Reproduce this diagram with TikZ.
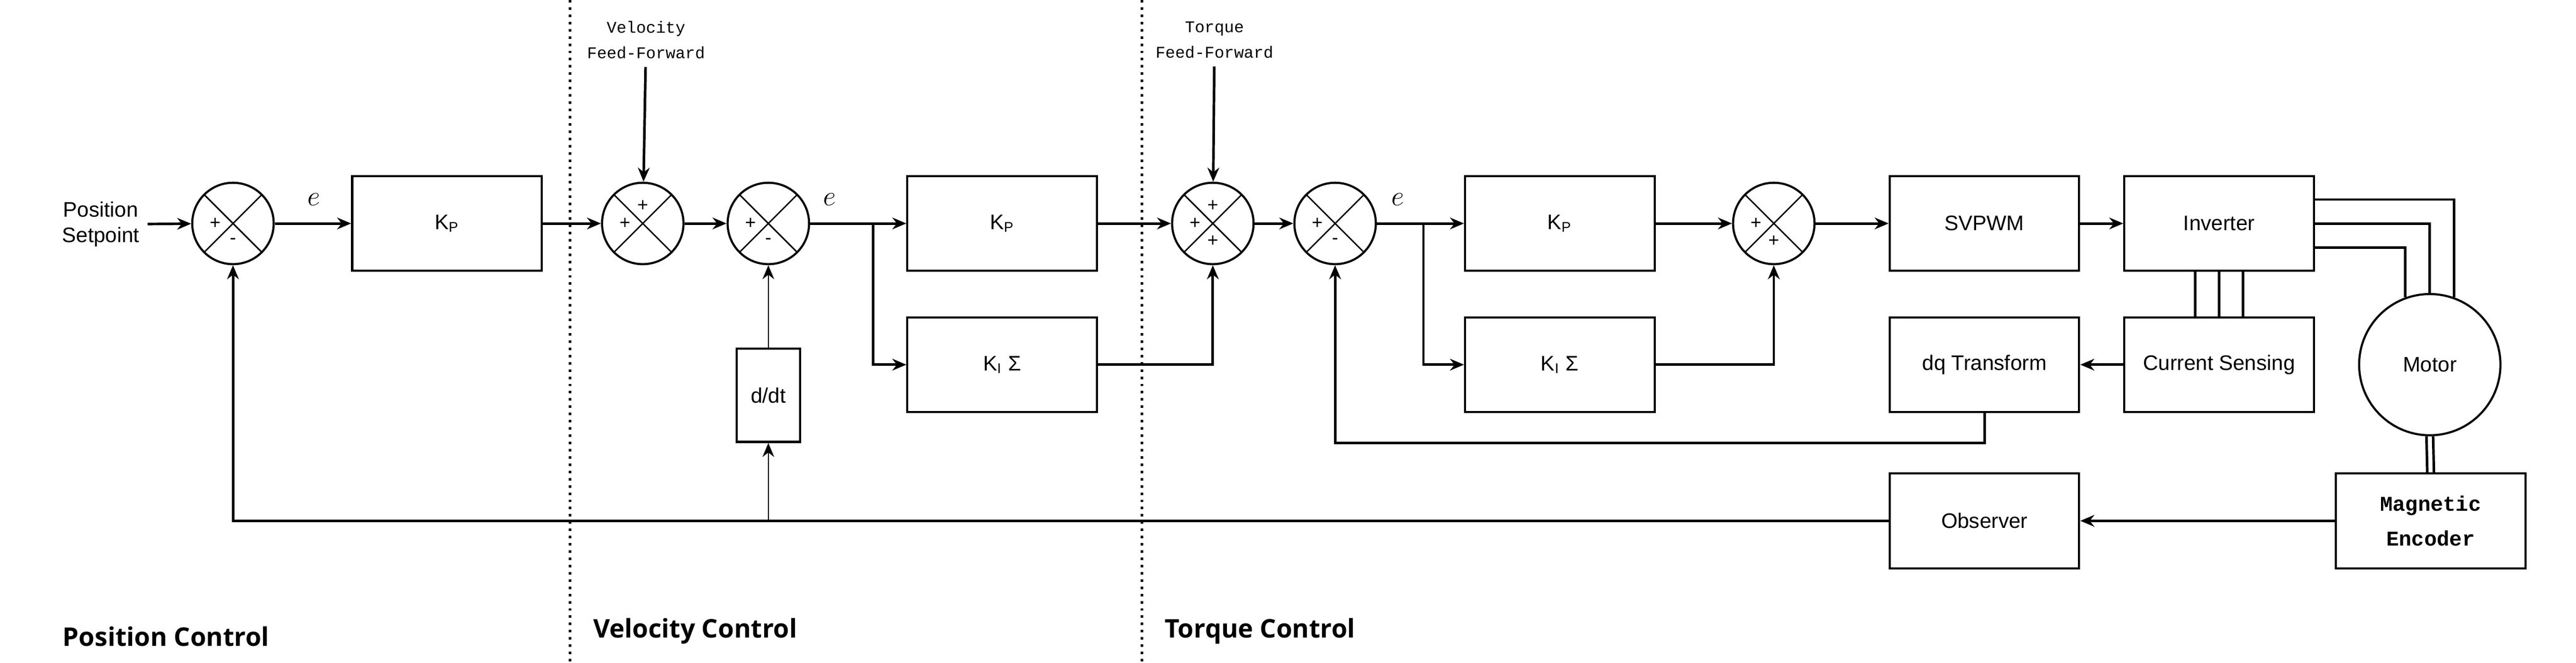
\documentclass[tikz,border=0pt]{standalone}
\usepackage{fontspec}
\setmainfont{Liberation Sans}
\newfontfamily\monofont{Liberation Mono}
\newfontfamily\headfont{Open Sans}
\usetikzlibrary{arrows.meta,calc}
\tikzset{
  blk/.style   = {draw, line width=0.9pt, minimum width=28.5mm, minimum height=14.25mm,
                  font=\fontsize{9}{10}\selectfont},
  sum/.style   = {draw, circle, line width=0.9pt, minimum size=12.25mm, inner sep=0pt,
                  path picture={\draw[line width=0.6pt]
                    (path picture bounding box.north west) -- (path picture bounding box.south east)
                    (path picture bounding box.north east) -- (path picture bounding box.south west);}},
  sgn/.style   = {font=\fontsize{8}{8}\selectfont, inner sep=0pt},
  sig/.style   = {line width=1.1pt, -{Stealth[length=6pt,width=5pt]}},
  wire/.style  = {line width=1.1pt},
  thin/.style  = {line width=0.5pt},
  ff/.style    = {font=\monofont\fontsize{7}{11}\selectfont, align=center},
  err/.style   = {font=\fontsize{13}{13}\selectfont},
  sect/.style  = {font=\headfont\bfseries\fontsize{11}{12}\selectfont, anchor=west},
  divider/.style = {line width=1.1pt, dotted}
}
\begin{document}
\begin{tikzpicture}[x=0.2485mm, y=-0.25mm]
\useasboundingbox (0,0) rectangle (1559,399);
% section dividers
\draw[divider] (345,0) -- (345,399);
\draw[divider] (691,0) -- (691,399);
% position loop
\node[align=center, font=\fontsize{9}{11}\selectfont] (setp) at (61,135) {Position\\Setpoint};
\node[sum] (s1) at (141,134.5) {};
\node[blk] (kp1) at (270.5,134.5) {K\textsubscript{P}};
% velocity loop
\node[sum] (s2) at (389,134.5) {};
\node[sum] (s3) at (465,134.5) {};
\node[blk] (kp2) at (606.5,134.5) {K\textsubscript{P}};
\node[blk] (ki2) at (606.5,219.5) {K\textsubscript{I} Σ};
\node[draw, line width=0.9pt, minimum width=9.5mm, minimum height=14mm,
      font=\fontsize{9}{10}\selectfont] (ddt) at (465,238) {d/dt};
\node[ff] (vff) at (391,24) {Velocity\\Feed-Forward};
% torque loop
\node[sum] (s4) at (734,134.5) {};
\node[ff] (tff) at (735,24) {Torque\\Feed-Forward};
\node[sum] (s5) at (808,134.5) {};
\node[blk] (kp3) at (944,134.5) {K\textsubscript{P}};
\node[blk] (ki3) at (944,219.5) {K\textsubscript{I} Σ};
\node[sum] (s6) at (1073.5,134.5) {};
\node[blk] (pwm) at (1201,134.5) {SVPWM};
\node[blk] (inv) at (1343,134.5) {Inverter};
\node[blk] (dq) at (1201,219.5) {dq Transform};
\node[blk] (cs) at (1343,219.5) {Current Sensing};
\node[draw, circle, line width=0.9pt, minimum size=21.25mm,
      font=\fontsize{9}{10}\selectfont] (mot) at (1470.5,219.5) {Motor};
\node[blk] (obs) at (1201,313.5) {Observer};
\node[blk, font=\monofont\bfseries\fontsize{9}{15}\selectfont, align=center] (enc) at (1471,313.5) {Magnetic\\Encoder};
% signs
\foreach \s in {s1,s2,s3,s4,s5,s6} \node[sgn] at ([xshift=3.6mm]\s.west) {+};
\foreach \s in {s1,s3,s5} \node[sgn] at ([yshift=3.6mm]\s.south) {-};
\foreach \s in {s2,s4} \node[sgn] at ([yshift=-3.6mm]\s.north) {+};
\foreach \s in {s4,s6} \node[sgn] at ([yshift=3.6mm]\s.south) {+};
% error labels
\node[err] at (190,120) {$e$};
\node[err] at (502,120) {$e$};
\node[err] at (846,120) {$e$};
% forward path
\draw[sig] (setp) -- (s1);
\draw[sig] (s1) -- (kp1);
\draw[sig] (kp1) -- (s2);
\draw[sig] (s2) -- (s3);
\draw[sig] (s3) -- (kp2);
\draw[sig] (s3.east) ++(9.5mm,0) coordinate (b1) |- (ki2.west);
\draw[sig] (vff) -- (s2);
\draw[sig] (tff) -- (s4);
\draw[sig] (kp2) -- (s4);
\draw[sig] (ki2) -| (s4);
\draw[sig] (s4) -- (s5);
\draw[sig] (s5) -- (kp3);
\draw[sig] (s5.east) ++(7mm,0) coordinate (b2) |- (ki3.west);
\draw[sig] (kp3) -- (s6);
\draw[sig] (ki3) -| (s6);
\draw[sig] (s6) -- (pwm);
\draw[sig] (pwm) -- (inv);
\draw[sig] (cs) -- (dq);
% inverter to motor, three phases
\draw[wire] ([yshift=3.6mm]inv.east) -| (mot.70);
\draw[wire] (inv.east) -| (mot.north);
\draw[wire] ([yshift=-3.6mm]inv.east) -| (mot.110);
\foreach \d in {-3.6mm,0mm,3.6mm}
  \draw[wire] ([xshift=\d]inv.south) -- ([xshift=\d]cs.north);
% motor to encoder
\draw[wire] ([xshift=-0.5mm]mot.south) -- ([xshift=-0.5mm]enc.north);
\draw[wire] ([xshift=0.5mm]mot.south) -- ([xshift=0.5mm]enc.north);
% feedback
\draw[sig] (dq.south) |- ++(0,18) -| (s5.south);
\draw[sig] (enc) -- (obs);
\draw[sig] (obs.west) -| (s1.south);
\coordinate (fb) at (ddt.south |- obs.west);
\draw[thin, -{Stealth[length=6pt,width=5pt]}] (fb) -- (ddt.south);
\draw[thin, -{Stealth[length=6pt,width=5pt]}] (ddt.north) -- (s3.south);
% section titles
\node[sect] at (33,383) {Position Control};
\node[sect] at (354,380) {Velocity Control};
\node[sect] at (700,380) {Torque Control};
\end{tikzpicture}
\end{document}
